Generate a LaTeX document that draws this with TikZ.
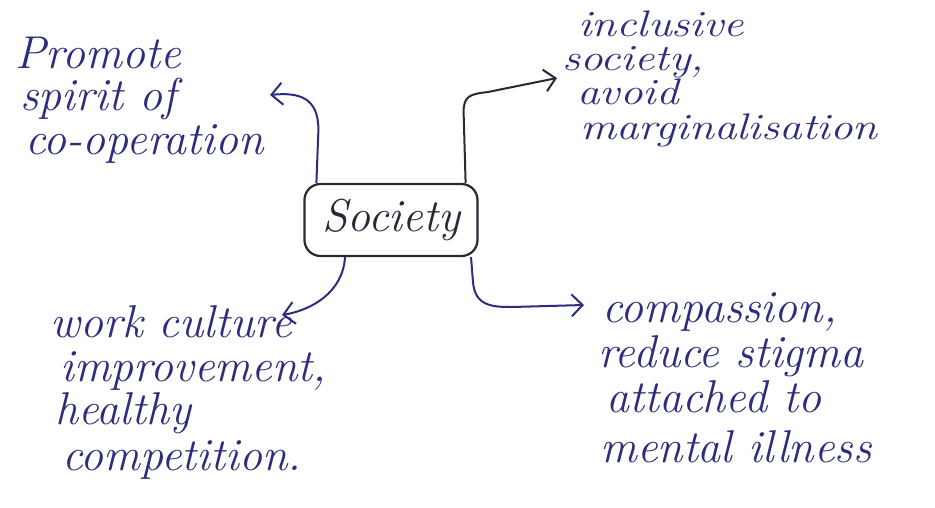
\documentclass[tikz,border=0pt]{standalone}
\usepackage{graphicx}
\usetikzlibrary{arrows.meta}
\definecolor{ink}{RGB}{45,45,125}
\definecolor{pencil}{RGB}{40,40,55}
\newcommand{\widetext}[1]{\scalebox{1.22}[1]{#1}}
\tikzset{
  hand/.style={font=\fontsize{46}{50}\selectfont\itshape, text=ink, inner sep=0pt, anchor=base west},
  handsmall/.style={hand, font=\fontsize{37}{40}\selectfont\itshape},
  conn/.style={line width=2pt, draw=ink, -{Straight Barb[length=11pt,width=22pt,line width=2pt]}},
  centre/.style={draw=pencil, line width=2.2pt, rounded corners=16pt, minimum width=173pt, minimum height=72pt, font=\fontsize{46}{50}\selectfont\itshape, text=pencil}
}
\begin{document}
\begin{tikzpicture}[x=1pt,y=-1pt]
\useasboundingbox (0,0) rectangle (935,507);
\node[centre] (soc) at (391,220) {Society};
% top left
\node[hand] (p1) at (15,68) {Promote};
\node[hand] (p2) at (20,110) {spirit of};
\node[hand] (p3) at (25,154) {co-operation};
% top right
\node[handsmall] (i1) at (578,36) {\widetext{inclusive}};
\node[handsmall] (i2) at (562,70) {\widetext{society,}};
\node[handsmall] (i3) at (577,104) {\widetext{avoid}};
\node[handsmall] (i4) at (580,139) {\widetext{marginalisation}};
% bottom left
\node[hand] (w1) at (50,337) {work culture};
\node[hand] (w2) at (60,381) {improvement,};
\node[hand] (w3) at (55,424) {healthy};
\node[hand] (w4) at (62,470) {competition.};
% bottom right
\node[hand] (c1) at (602,322) {compassion,};
\node[hand] (c2) at (598,367) {reduce stigma};
\node[hand] (c3) at (606,412) {attached to};
\node[hand] (c4) at (600,462) {mental illness};
\coordinate (aTL) at (270,95);
\coordinate (aTR) at (557,78);
\coordinate (aBL) at (282,315);
\coordinate (aBR) at (584,305);
\draw[conn] ([xshift=13pt]soc.north west) -- ([xshift=15pt]soc.north west |- 0,130) .. controls ([xshift=15pt]soc.north west |- 0,98) and (300,92) .. (aTL);
\draw[conn, draw=pencil] ([xshift=-13pt]soc.north east) -- ([xshift=-15pt]soc.north east |- 0,112) .. controls ([xshift=-15pt]soc.north east |- 0,96) and (470,94) .. (488,92) -- (aTR);
\draw[conn] ([xshift=-46pt]soc.south) .. controls ([xshift=-48pt]soc.south |- 0,292) and (312,310) .. (aBL);
\draw[conn] ([xshift=80pt]soc.south) -- ([xshift=82pt]soc.south |- 0,282) .. controls ([xshift=84pt]soc.south |- 0,306) and (492,307) .. (512,307) -- (aBR);
\end{tikzpicture}
\end{document}
